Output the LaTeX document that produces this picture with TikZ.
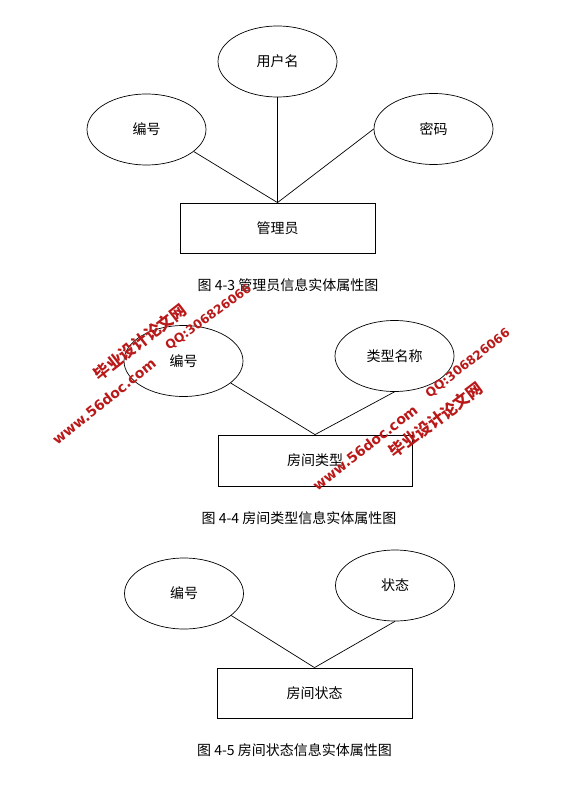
\documentclass[tikz,border=0pt]{standalone}
\usepackage{fontspec}
\setmainfont{Noto Sans CJK SC}
\newfontfamily\wmlatin{DejaVu Sans}
\usetikzlibrary{shapes.geometric}
\definecolor{wmred}{RGB}{185,25,25}
\begin{document}
\begin{tikzpicture}[x=1pt,y=-1pt,
  attr/.style={ellipse, draw, line width=0.7pt, minimum width=119pt, minimum height=71pt, inner sep=0pt, font=\fontsize{14}{16}\selectfont},
  ent/.style={rectangle, draw, line width=0.8pt, minimum width=195pt, minimum height=50pt, inner sep=0pt, font=\fontsize{14}{16}\selectfont},
  conn/.style={line width=0.7pt},
  capt/.style={inner sep=0pt, font=\fontsize{14}{16}\selectfont},
  wmcn/.style={text=wmred, inner sep=0pt, font=\fontsize{16}{18}\selectfont\bfseries},
  wmen/.style={text=wmred, inner sep=0pt, font=\fontsize{14}{16}\wmlatin\bfseries}
]
\useasboundingbox (0,0) rectangle (581,786);
% Diagram 1
\node[attr] (u1) at (277.5,61.5) {用户名};
\node[attr] (b1) at (146.5,129.5) {编号};
\node[attr] (m1) at (433.5,129) {密码};
\node[ent] (e1) at (277.5,228) {管理员};
\node[capt] (c1) at (288,285) {图 4-3 管理员信息实体属性图};
\draw[conn] (e1.north) -- (u1.south);
\draw[conn] (e1.north) -- (b1.-25);
\draw[conn] (e1.north) -- (m1.west);
% Diagram 2
\node[attr] (b2) at (183.5,361) {编号};
\node[attr] (t2) at (394.5,356) {类型名称};
\node[ent, minimum width=194pt, minimum height=51pt] (e2) at (315,460.5) {房间类型};
\node[capt] (c2) at (299,518) {图 4-4 房间类型信息实体属性图};
\draw[conn] (e2.north) -- (b2.-25);
\draw[conn] (e2.north) -- (t2.south);
% Diagram 3
\node[attr] (b3) at (184,593.5) {编号};
\node[attr] (s3) at (395,585.5) {状态};
\node[ent] (e3) at (314.5,693) {房间状态};
\node[capt] (c3) at (294.5,750) {图 4-5 房间状态信息实体属性图};
\draw[conn] (e3.north) -- (b3.-25);
\draw[conn] (e3.north) -- (s3.south);
% Watermarks
\node[wmcn, rotate=38] (wa1) at (140,342) {毕业设计论文网};
\node[wmen, rotate=39] (wa2) at (104,401.5) {www.56doc.com};
\node[wmen, rotate=36, font=\fontsize{12.3}{14}\wmlatin\bfseries] (wa3) at (208.5,317.5) {QQ:306826066};
\node[wmen, rotate=38] (wb1) at (365,447.5) {www.56doc.com};
\node[wmen, rotate=38, font=\fontsize{12.3}{14}\wmlatin\bfseries] (wb2) at (468,363.5) {QQ:306826066};
\node[wmcn, rotate=37] (wb3) at (436,420) {毕业设计论文网};
\end{tikzpicture}
\end{document}
